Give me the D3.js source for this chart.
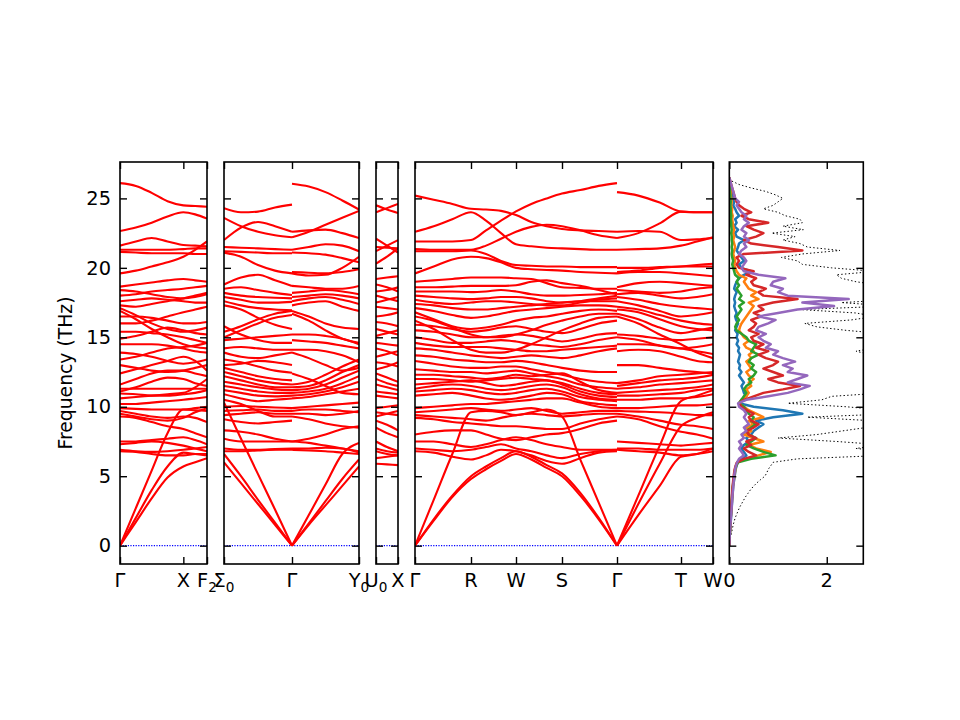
<!DOCTYPE html>
<html>
<head>
<meta charset="utf-8">
<script src="https://cdn.jsdelivr.net/npm/d3@7"></script>
<style>
body { margin: 0; background: #fff; }
text { font-family: "DejaVu Sans", sans-serif; }
</style>
</head>
<body>
<svg width="960" height="720"></svg>
<script>
// ---- band structure data (frequencies in THz at path distances q) ----
const qGX = [0, 0.0158, 0.0316, 0.0474, 0.0632, 0.075, 0.0868];
const bandsGX = [
  [26.1, 25.9, 25.4, 24.8, 24.5, 24.45, 24.4],
  [22.65, 22.9, 23.25, 23.7, 24.0, 23.85, 23.55],
  [21.6, 21.9, 22.15, 21.9, 21.65, 21.6, 21.55],
  [21.3, 21.3, 21.3, 21.3, 21.35, 21.4, 21.4],
  [21.15, 21.1, 21.05, 21.05, 21.05, 21.0, 21.0],
  [19.6, 19.8, 20.1, 20.4, 20.8, 21.3, 21.9],
  [18.65, 18.8, 18.95, 19.1, 19.2, 19.1, 19.0],
  [18.4, 18.3, 18.1, 17.9, 17.8, 17.9, 18.1],
  [18.0, 18.1, 18.3, 18.4, 18.5, 18.6, 18.7],
  [17.6, 17.7, 17.8, 17.7, 17.6, 17.5, 17.5],
  [17.3, 17.2, 17.4, 17.6, 17.8, 18.0, 18.2],
  [17.1, 16.6, 16.0, 15.6, 15.4, 15.5, 15.7],
  [16.9, 16.3, 15.6, 15.0, 14.5, 14.3, 14.2],
  [16.5, 16.5, 16.4, 16.2, 16.0, 16.0, 16.1],
  [16.0, 16.0, 16.2, 16.5, 16.8, 17.0, 17.2],
  [15.4, 15.4, 15.3, 15.2, 15.0, 14.8, 14.6],
  [14.9, 15.1, 15.4, 15.7, 15.5, 15.3, 15.2],
  [14.5, 14.5, 14.5, 14.4, 14.2, 14.0, 13.9],
  [13.9, 13.8, 13.6, 13.3, 13.1, 13.2, 13.4],
  [13.4, 13.6, 13.9, 14.2, 14.3, 14.4, 14.6],
  [13.0, 12.8, 12.6, 12.5, 12.6, 12.8, 13.0],
  [12.4, 12.7, 13.0, 13.3, 13.6, 13.3, 12.6],
  [11.6, 12.0, 12.4, 12.6, 12.6, 12.4, 12.2],
  [11.3, 11.3, 11.3, 11.3, 11.3, 11.3, 11.3],
  [11.1, 11.4, 11.8, 12.1, 12.0, 11.7, 11.5],
  [10.95, 10.9, 10.8, 10.8, 10.9, 11.0, 11.2],
  [10.6, 10.7, 10.8, 10.9, 11.0, 11.4, 12.0],
  [10.2, 10.2, 10.3, 10.4, 10.5, 10.6, 10.7],
  [9.9, 9.85, 9.8, 9.8, 9.8, 9.9, 10.0],
  [9.7, 9.5, 9.3, 9.2, 9.3, 9.2, 8.9],
  [9.5, 9.3, 9.1, 9.0, 9.2, 9.6, 9.9],
  [9.3, 9.2, 8.9, 8.6, 8.4, 8.1, 7.8],
  [7.5, 7.5, 7.6, 7.7, 7.8, 7.6, 7.3],
  [7.3, 7.4, 7.5, 7.4, 7.2, 7.0, 6.8],
  [6.9, 6.8, 6.75, 6.8, 6.9, 7.0, 7.1],
  [6.8, 6.75, 6.6, 6.5, 6.5, 6.6, 6.6],
  [0, 2.7, 5.4, 8.1, 9.8, 9.75, 9.7],
  [0, 2.0, 4.0, 5.7, 6.7, 6.6, 6.5],
  [0, 1.7, 3.4, 4.9, 5.7, 6.0, 6.3]
];

const qSG = [0.0868, 0.1038, 0.1208, 0.1378, 0.1548];
const bandsSG = [
  [24.3, 24.0, 24.05, 24.35, 24.55],
  [23.6, 23.0, 22.6, 22.35, 22.2],
  [22.0, 22.9, 23.3, 23.0, 22.6],
  [21.5, 21.45, 21.4, 21.35, 21.3],
  [21.2, 21.15, 21.1, 21.05, 21.05],
  [21.1, 20.8, 20.2, 19.8, 19.6],
  [18.8, 19.3, 19.5, 19.1, 18.7],
  [18.5, 18.6, 18.4, 18.2, 18.05],
  [18.2, 18.0, 17.9, 17.85, 17.8],
  [17.9, 17.7, 17.5, 17.5, 17.55],
  [17.6, 17.3, 17.1, 17.0, 16.95],
  [15.4, 15.8, 16.3, 16.7, 16.9],
  [15.0, 15.5, 16.0, 16.4, 16.6],
  [17.3, 17.0, 16.4, 15.9, 15.6],
  [14.8, 14.9, 15.0, 15.1, 15.2],
  [15.8, 15.2, 14.8, 14.6, 14.6],
  [14.2, 14.3, 14.2, 14.1, 14.1],
  [13.9, 13.6, 13.5, 13.7, 13.9],
  [13.4, 13.2, 12.9, 12.6, 12.45],
  [13.0, 13.1, 13.3, 13.2, 13.0],
  [12.8, 12.5, 12.2, 12.0, 11.9],
  [12.5, 12.2, 11.9, 11.7, 11.6],
  [12.2, 11.9, 11.6, 11.4, 11.4],
  [11.8, 11.6, 11.4, 11.25, 11.2],
  [11.5, 11.3, 11.1, 11.0, 11.0],
  [11.2, 11.0, 10.8, 10.75, 10.8],
  [10.9, 10.6, 10.4, 10.5, 10.6],
  [10.0, 10.05, 10.0, 9.95, 9.9],
  [9.7, 9.75, 9.8, 9.7, 9.7],
  [9.4, 9.5, 9.6, 9.5, 9.5],
  [10.5, 10.2, 9.7, 9.3, 9.3],
  [9.1, 8.9, 8.8, 8.9, 9.0],
  [8.3, 8.2, 8.0, 7.7, 7.5],
  [7.7, 7.5, 7.5, 7.5, 7.5],
  [7.0, 6.9, 6.9, 6.95, 7.0],
  [6.8, 6.8, 6.85, 6.9, 6.9],
  [10.3, 7.7, 5.15, 2.6, 0],
  [6.6, 5.0, 3.3, 1.65, 0],
  [6.0, 4.5, 3.0, 1.5, 0]
];

const qGY = [0.1548, 0.1716, 0.1883, 0.2051, 0.2218];
const bandsGY = [
  [26.05, 25.85, 25.45, 24.85, 24.2],
  [22.2, 22.6, 23.1, 23.6, 24.1],
  [22.6, 22.7, 22.75, 22.5, 22.15],
  [21.3, 21.5, 21.7, 21.6, 21.2],
  [21.1, 21.05, 20.95, 20.7, 20.4],
  [19.6, 19.45, 19.5, 20.0, 20.8],
  [19.7, 19.65, 19.6, 19.7, 19.9],
  [18.7, 18.6, 18.5, 18.5, 18.7],
  [18.2, 18.3, 18.4, 18.3, 18.1],
  [17.9, 18.0, 18.1, 18.0, 17.8],
  [17.6, 17.8, 17.9, 17.7, 17.4],
  [17.3, 17.5, 17.6, 17.2, 16.9],
  [16.9, 16.5, 16.0, 15.7, 15.6],
  [16.7, 16.2, 15.5, 14.9, 14.6],
  [15.2, 15.2, 15.1, 14.9, 14.5],
  [14.8, 14.7, 14.6, 14.4, 14.2],
  [14.1, 14.1, 14.0, 13.7, 13.2],
  [13.9, 13.5, 13.0, 12.6, 12.8],
  [11.6, 11.8, 12.3, 12.9, 13.4],
  [11.4, 11.5, 11.9, 12.5, 13.0],
  [11.2, 11.3, 11.6, 12.1, 12.6],
  [11.0, 11.1, 11.3, 11.7, 12.2],
  [10.8, 10.9, 11.1, 11.4, 11.8],
  [10.6, 10.7, 10.9, 11.1, 11.3],
  [12.4, 12.0, 11.5, 11.0, 10.9],
  [9.9, 10.0, 10.1, 10.2, 10.3],
  [9.7, 9.8, 9.8, 9.7, 9.6],
  [9.5, 9.5, 9.4, 9.5, 9.7],
  [9.3, 9.1, 8.8, 8.6, 8.5],
  [7.5, 7.7, 8.0, 8.4, 8.6],
  [7.5, 7.4, 7.2, 7.0, 6.8],
  [7.0, 7.0, 7.05, 7.0, 6.7],
  [6.9, 6.85, 6.8, 6.7, 6.6],
  [0, 2.2, 4.4, 6.6, 7.4],
  [0, 1.6, 3.2, 4.8, 6.2],
  [0, 1.5, 2.9, 4.3, 5.7]
];

const qUX = [0.2218, 0.2328, 0.2438];
const bandsUX = [
  [24.5, 24.2, 23.95], [24.0, 24.3, 24.6],
  [22.1, 21.6, 21.1], [21.2, 21.6, 22.0], [21.5, 21.45, 21.4], [20.3, 20.8, 21.4],
  [19.2, 19.3, 19.4], [18.8, 18.6, 18.3], [18.3, 18.4, 18.6], [18.0, 17.8, 17.6],
  [17.5, 17.7, 17.9], [17.2, 17.1, 17.0], [16.5, 16.6, 16.8], [16.1, 16.0, 15.8],
  [15.6, 15.4, 15.2], [15.1, 15.3, 15.5], [14.6, 14.5, 14.4], [14.2, 14.0, 13.7],
  [13.6, 13.8, 14.0], [13.2, 13.1, 12.9], [12.7, 12.9, 13.2], [12.4, 12.1, 11.8],
  [12.0, 11.7, 11.5], [11.6, 11.4, 11.2], [11.1, 11.0, 10.9], [10.8, 10.7, 10.6],
  [9.9, 10.0, 10.1], [9.6, 9.5, 9.4], [9.3, 9.5, 9.7], [9.0, 8.7, 8.3],
  [8.5, 8.1, 7.8], [7.5, 7.1, 6.8], [7.0, 6.8, 6.7], [6.8, 6.6, 6.5],
  [5.9, 5.85, 5.8], [6.3, 6.4, 6.5]
];

const qGRWSG = [0.2438, 0.2625, 0.2811, 0.2998, 0.3148, 0.3298, 0.3448,
  0.3601, 0.3755, 0.3908, 0.4091, 0.4275, 0.4458];
const bandsGRWSG = [
  [21.9, 21.9, 21.9, 22.0, 22.7, 23.4, 24.06, 24.6, 25.0, 25.35, 25.6, 25.9, 26.1],
  [25.2, 24.9, 24.6, 24.25, 24.2, 24.1, 23.8, 23.3, 23.0, 22.8, 22.7, 22.65, 22.6],
  [22.6, 23.0, 23.5, 24.0, 23.4, 22.5, 21.7, 21.55, 21.45, 21.4, 21.35, 21.3, 21.3],
  [21.35, 21.3, 21.3, 21.3, 21.6, 22.1, 22.6, 22.95, 23.1, 23.0, 22.7, 22.35, 22.15],
  [21.2, 21.2, 21.2, 21.25, 21.0, 20.5, 20.2, 20.15, 20.1, 20.1, 20.05, 20.05, 20.05],
  [19.6, 20.1, 20.6, 20.8, 20.7, 20.4, 20.0, 19.9, 19.85, 19.8, 19.7, 19.65, 19.6],
  [19.0, 19.1, 19.2, 19.3, 19.3, 19.3, 19.25, 19.2, 18.9, 18.6, 18.55, 18.5, 18.5],
  [18.6, 18.6, 18.65, 18.7, 18.7, 18.7, 18.75, 19.0, 19.1, 18.9, 18.7, 18.4, 18.1],
  [18.3, 18.3, 18.3, 18.25, 18.3, 18.4, 18.3, 18.1, 18.0, 18.0, 18.05, 18.1, 18.2],
  [18.0, 17.9, 17.8, 17.75, 17.8, 17.9, 17.9, 17.8, 17.6, 17.5, 17.6, 17.8, 18.0],
  [17.7, 17.5, 17.4, 17.5, 17.6, 17.6, 17.5, 17.4, 17.3, 17.3, 17.5, 17.7, 17.8],
  [17.4, 17.3, 17.1, 17.0, 17.0, 17.1, 17.2, 17.3, 17.4, 17.5, 17.6, 17.6, 17.6],
  [17.1, 16.9, 16.6, 16.4, 16.5, 16.7, 16.9, 17.0, 17.1, 17.2, 17.3, 17.3, 17.2],
  [16.8, 16.3, 15.8, 15.6, 15.7, 15.9, 16.2, 16.4, 16.5, 16.7, 16.9, 17.0, 16.9],
  [16.5, 16.2, 15.7, 15.2, 15.0, 15.0, 15.2, 15.5, 15.9, 16.2, 16.5, 16.7, 16.7],
  [16.2, 15.6, 14.8, 14.1, 13.9, 13.9, 14.1, 14.5, 15.0, 15.5, 16.0, 16.4, 16.5],
  [15.9, 15.8, 15.6, 15.4, 15.5, 15.7, 15.8, 15.6, 15.4, 15.3, 15.6, 16.0, 16.2],
  [15.5, 15.4, 15.2, 15.0, 15.0, 15.1, 15.2, 15.1, 14.9, 14.7, 14.9, 15.2, 15.3],
  [15.0, 14.8, 14.6, 14.6, 14.7, 14.8, 14.7, 14.5, 14.4, 14.3, 14.5, 14.8, 15.0],
  [14.6, 14.4, 14.3, 14.3, 14.3, 14.2, 14.1, 14.0, 14.0, 14.1, 14.2, 14.3, 14.4],
  [14.2, 14.1, 13.9, 13.7, 13.6, 13.5, 13.6, 13.7, 13.6, 13.5, 13.7, 14.0, 14.2],
  [13.7, 13.6, 13.4, 13.3, 13.2, 13.2, 13.3, 13.2, 13.0, 12.8, 12.6, 12.5, 12.5],
  [13.3, 13.1, 12.9, 12.8, 12.8, 12.9, 12.9, 12.7, 12.5, 12.3, 12.0, 11.8, 11.7],
  [12.7, 12.6, 12.5, 12.5, 12.4, 12.5, 12.6, 12.4, 12.2, 12.0, 11.6, 11.4, 11.3],
  [12.3, 12.3, 12.2, 12.1, 12.0, 12.1, 12.3, 12.2, 12.3, 12.4, 11.8, 11.2, 11.0],
  [12.0, 12.0, 11.9, 11.8, 11.9, 12.0, 12.1, 12.0, 11.9, 11.7, 11.3, 11.0, 10.9],
  [11.6, 11.7, 11.8, 11.9, 11.7, 11.5, 11.6, 11.8, 11.9, 11.6, 11.1, 10.8, 10.7],
  [11.3, 11.5, 11.6, 11.5, 11.3, 11.2, 11.3, 11.5, 11.6, 11.4, 10.9, 10.6, 10.5],
  [11.1, 11.2, 11.3, 11.2, 11.0, 10.9, 11.0, 11.2, 11.3, 11.1, 10.7, 10.5, 10.4],
  [10.8, 10.9, 11.0, 10.8, 10.6, 10.5, 10.6, 10.8, 11.0, 10.9, 10.4, 10.2, 10.1],
  [9.9, 10.0, 10.1, 10.2, 10.2, 10.3, 10.4, 10.5, 10.6, 10.6, 10.3, 10.0, 9.9],
  [9.6, 9.7, 9.8, 9.9, 9.8, 9.7, 9.8, 9.9, 9.7, 9.5, 9.6, 9.7, 9.7],
  [9.4, 9.3, 9.2, 9.1, 9.0, 9.2, 9.4, 9.5, 9.4, 9.3, 9.4, 9.5, 9.5],
  [9.2, 9.1, 8.9, 8.8, 8.7, 8.6, 8.6, 8.5, 8.4, 8.4, 8.8, 9.1, 9.3],
  [8.0, 8.2, 8.3, 8.3, 8.0, 7.7, 7.6, 7.8, 8.0, 8.1, 8.4, 8.8, 9.0],
  [7.5, 7.5, 7.3, 7.1, 7.3, 7.6, 7.8, 7.6, 7.3, 7.1, 6.9, 6.9, 6.9],
  [7.0, 6.9, 6.8, 6.9, 7.1, 7.3, 7.0, 6.8, 6.5, 6.3, 6.6, 6.8, 6.9],
  [6.8, 6.7, 6.4, 6.2, 6.5, 6.9, 6.8, 6.5, 6.1, 5.9, 6.3, 6.7, 6.8],
  [0, 1.8, 3.5, 4.8, 5.5, 6.1, 6.6, 6.2, 5.6, 5.0, 3.6, 1.9, 0],
  [0, 1.9, 3.6, 5.0, 5.7, 6.3, 6.8, 6.4, 5.8, 5.2, 3.8, 2.0, 0],
  [0, 3.3, 6.6, 9.6, 9.7, 9.6, 9.4, 9.6, 9.8, 9.3, 6.2, 3.1, 0]
];

const qGTW = [0.4458, 0.4671, 0.4885, 0.5098, 0.5258, 0.5418];
const bandsGTW = [
  [25.45, 25.2, 24.7, 24.05, 24.0, 24.0],
  [22.15, 22.5, 23.2, 24.05, 24.0, 24.0],
  [22.6, 22.65, 22.6, 22.0, 22.05, 22.15],
  [21.3, 21.35, 21.4, 21.6, 21.9, 22.2],
  [20.0, 20.0, 20.05, 20.1, 20.1, 20.1],
  [19.7, 19.8, 20.0, 20.1, 20.2, 20.3],
  [19.6, 19.7, 19.7, 19.6, 19.5, 19.4],
  [18.6, 18.9, 19.0, 18.9, 18.8, 18.7],
  [18.4, 18.3, 18.2, 18.3, 18.5, 18.6],
  [18.1, 18.2, 18.0, 17.8, 17.9, 18.1],
  [17.9, 17.7, 17.4, 17.2, 17.1, 17.0],
  [17.6, 17.3, 16.9, 16.5, 16.6, 16.8],
  [17.2, 17.0, 16.6, 16.2, 16.0, 15.9],
  [17.0, 16.8, 16.3, 15.8, 15.6, 15.5],
  [16.7, 16.3, 15.7, 15.3, 15.5, 15.7],
  [15.2, 15.1, 14.9, 14.8, 14.9, 15.0],
  [15.0, 14.8, 14.4, 14.2, 14.3, 14.5],
  [14.5, 14.5, 14.4, 14.2, 14.0, 13.8],
  [14.0, 14.1, 14.0, 13.6, 13.3, 13.2],
  [16.5, 16.0, 15.2, 14.5, 13.9, 13.5],
  [13.0, 13.0, 12.8, 12.6, 12.5, 12.4],
  [11.7, 11.9, 12.2, 12.3, 12.4, 12.5],
  [11.5, 11.7, 11.9, 12.0, 12.1, 12.3],
  [11.3, 11.4, 11.6, 11.7, 11.8, 11.9],
  [11.0, 11.1, 11.2, 11.3, 11.4, 11.6],
  [10.8, 10.8, 10.9, 11.0, 11.2, 11.3],
  [10.5, 10.5, 10.6, 10.6, 10.7, 10.9],
  [9.9, 9.9, 10.0, 10.1, 10.1, 10.2],
  [9.7, 9.65, 9.6, 9.5, 9.4, 9.4],
  [9.5, 9.3, 9.0, 8.7, 8.6, 8.4],
  [9.3, 9.1, 8.6, 8.2, 8.0, 7.7],
  [7.5, 7.4, 7.3, 7.2, 7.3, 7.4],
  [7.0, 7.0, 6.9, 6.9, 6.9, 7.0],
  [6.9, 6.8, 6.7, 6.5, 6.6, 6.8],
  [0, 2.2, 4.3, 6.4, 6.6, 7.0],
  [0, 3.0, 5.9, 8.6, 9.2, 9.6],
  [0, 3.6, 7.2, 10.4, 10.8, 11.2]
];

// high-symmetry tick labels per panel: [q, symbol, subscript]
const labelsP1 = [[0, "Γ", ""], [0.0632, "X", ""], [0.0868, "F", "2"]];
const labelsP2 = [[0.0868, "Σ", "0"], [0.1548, "Γ", ""], [0.2218, "Y", "0"]];
const labelsP3 = [[0.2218, "U", "0"], [0.2438, "X", ""]];
const labelsP4 = [[0.2438, "Γ", ""], [0.2998, "R", ""], [0.3448, "W", ""], [0.3908, "S", ""],
  [0.4458, "Γ", ""], [0.5098, "T", ""], [0.5418, "W", ""]];

const freqTicks = [0, 5, 10, 15, 20, 25];
const dosTicks = [0, 2];

// ---- phonon DOS (frequency grid, THz) ----
const dosFreq = [0,0.25,0.5,0.75,1,1.25,1.5,1.75,2,2.25,
  2.5,2.75,3,3.25,3.5,3.75,4,4.25,4.5,4.75,
  5,5.25,5.5,5.75,6,6.25,6.5,6.75,7,7.25,
  7.5,7.75,8,8.25,8.5,8.75,9,9.25,9.5,9.75,
  10,10.25,10.5,10.75,11,11.25,11.5,11.75,12,12.25,
  12.5,12.75,13,13.25,13.5,13.75,14,14.25,14.5,14.75,
  15,15.25,15.5,15.75,16,16.25,16.5,16.75,17,17.25,
  17.5,17.75,18,18.25,18.5,18.75,19,19.25,19.5,19.75,
  20,20.25,20.5,20.75,21,21.25,21.5,21.75,22,22.25,
  22.5,22.75,23,23.25,23.5,23.75,24,24.25,24.5,24.75,
  25,25.25,25.5,25.75,26,26.25,26.5];
const dosTotal = [0,0.01,0.02,0.035,0.05,0.065,0.08,0.1,0.12,0.15,
  0.18,0.21,0.25,0.29,0.33,0.38,0.43,0.49,0.56,0.64,
  0.73,0.77,0.8,0.85,0.9,1.4,3.2,3.3,2.6,3.2,
  2.2,1.0,1.8,2.3,2.8,3.2,2.9,1.6,3.4,3.2,
  2.4,1.2,1.9,2.1,3.2,3.5,3.8,3.3,3.5,3.6,
  3.2,3.4,3.1,3.3,3.0,2.9,2.6,3.0,3.1,2.9,
  3.0,3.2,2.4,1.8,1.55,2.5,3.0,2.6,1.45,3.3,
  2.3,3.6,3.2,3.0,2.9,3.1,2.6,2.3,2.2,3.0,
  2.1,1.5,1.4,1.07,1.5,2.27,1.6,1.45,1.1,1.35,
  0.87,1.52,1.1,1.5,1.45,1.15,1.0,0.7,0.9,1.0,
  1.1,0.95,0.75,0.45,0.2,0.05,0];
const dosBlue = [0,0.003,0.006,0.01,0.015,0.02,0.025,0.03,0.035,0.04,
  0.045,0.05,0.055,0.06,0.065,0.07,0.075,0.08,0.09,0.1,
  0.11,0.12,0.13,0.15,0.17,0.25,0.35,0.3,0.25,0.3,
  0.4,0.35,0.45,0.5,0.6,0.7,0.55,0.9,1.5,1.1,
  0.5,0.2,0.25,0.35,0.3,0.28,0.25,0.3,0.25,0.2,
  0.25,0.2,0.22,0.18,0.2,0.22,0.18,0.2,0.15,0.18,
  0.15,0.17,0.12,0.15,0.18,0.14,0.12,0.15,0.12,0.1,
  0.12,0.1,0.12,0.15,0.1,0.12,0.15,0.2,0.3,0.45,
  0.25,0.2,0.3,0.25,0.2,0.15,0.18,0.2,0.3,0.15,
  0.12,0.18,0.1,0.15,0.12,0.2,0.15,0.12,0.08,0.1,
  0.06,0.08,0.05,0.04,0.03,0.01,0];
const dosOrange = [0,0.003,0.006,0.01,0.014,0.018,0.022,0.026,0.03,0.035,
  0.04,0.045,0.05,0.055,0.06,0.065,0.07,0.075,0.085,0.095,
  0.105,0.115,0.125,0.14,0.16,0.35,0.6,0.85,0.55,0.4,
  0.7,0.5,0.3,0.45,0.35,0.5,0.4,0.7,0.55,0.4,
  0.3,0.2,0.25,0.35,0.4,0.35,0.45,0.4,0.5,0.4,
  0.35,0.45,0.4,0.35,0.45,0.4,0.5,0.35,0.3,0.4,
  0.3,0.25,0.2,0.22,0.25,0.3,0.35,0.4,0.45,0.5,
  0.4,0.6,0.45,0.55,0.4,0.35,0.3,0.35,0.2,0.15,
  0.12,0.1,0.12,0.1,0.08,0.1,0.12,0.1,0.08,0.1,
  0.08,0.1,0.08,0.07,0.06,0.07,0.05,0.06,0.04,0.05,
  0.04,0.03,0.03,0.02,0.02,0.01,0];
const dosGreen = [0,0.003,0.006,0.01,0.014,0.018,0.022,0.026,0.03,0.034,
  0.038,0.042,0.046,0.05,0.055,0.06,0.065,0.07,0.08,0.09,
  0.1,0.11,0.12,0.14,0.18,0.45,0.95,0.7,0.5,0.35,
  0.45,0.55,0.4,0.35,0.45,0.55,0.45,0.5,0.4,0.35,
  0.3,0.2,0.25,0.3,0.35,0.3,0.35,0.45,0.4,0.5,
  0.55,0.45,0.5,0.4,0.45,0.6,0.45,0.5,0.55,0.4,
  0.35,0.25,0.15,0.12,0.15,0.2,0.15,0.2,0.25,0.2,
  0.3,0.2,0.25,0.2,0.15,0.2,0.15,0.2,0.12,0.1,
  0.08,0.06,0.08,0.06,0.05,0.06,0.05,0.06,0.05,0.05,
  0.04,0.05,0.04,0.04,0.03,0.04,0.03,0.03,0.02,0.03,
  0.02,0.02,0.015,0.01,0.01,0.005,0];
const dosRed = [0,0.003,0.006,0.009,0.012,0.016,0.02,0.024,0.028,0.032,
  0.036,0.04,0.044,0.048,0.052,0.057,0.062,0.068,0.075,0.082,
  0.09,0.1,0.11,0.13,0.16,0.3,0.55,0.4,0.3,0.45,
  0.35,0.55,0.4,0.35,0.5,0.6,0.45,0.4,0.5,0.35,
  0.25,0.2,0.3,0.5,0.7,1.1,1.45,1.0,0.8,1.1,
  0.9,0.7,0.9,1.0,0.75,0.6,0.8,0.55,0.7,0.5,
  0.45,0.6,0.4,0.5,0.55,0.45,0.65,0.5,0.7,0.6,
  0.9,1.4,0.7,0.6,0.75,0.5,0.45,0.55,0.35,0.5,
  0.2,0.15,0.2,0.15,0.3,1.5,1.0,0.45,0.3,0.55,
  0.7,0.5,0.35,0.8,0.4,0.25,0.45,0.3,0.2,0.15,
  0.12,0.1,0.08,0.06,0.04,0.02,0];
const dosPurple = [0,0.003,0.006,0.01,0.014,0.018,0.023,0.028,0.033,0.038,
  0.043,0.048,0.053,0.058,0.063,0.068,0.074,0.08,0.087,0.094,
  0.1,0.11,0.12,0.135,0.16,0.2,0.3,0.25,0.2,0.25,
  0.2,0.3,0.25,0.35,0.3,0.4,0.35,0.3,0.35,0.3,
  0.2,0.18,0.35,0.8,1.2,1.45,1.65,1.2,1.4,1.6,
  1.2,1.3,1.1,1.35,1.1,0.9,1.0,0.75,0.85,0.7,
  0.6,0.75,0.55,0.6,0.8,0.95,0.6,1.0,1.4,2.15,
  1.5,2.45,1.2,1.0,1.1,0.85,0.9,1.15,0.6,0.3,
  0.25,0.3,0.35,0.3,0.2,0.25,0.35,0.3,0.4,0.3,
  0.35,0.25,0.3,0.4,0.3,0.35,0.25,0.2,0.15,0.2,
  0.12,0.1,0.08,0.06,0.04,0.02,0];
const dosColors = ["#1f77b4", "#ff7f0e", "#2ca02c", "#d62728", "#9467bd"];

// ---- layout ----
const svg = d3.select("svg");
const yTop = 162, yBottom = 564;
const y = d3.scaleLinear().domain([-1.32, 27.62]).range([yBottom, yTop]);
const tickLen = 7;

function styleAxis(g) {
  g.select(".domain").remove();
  g.selectAll("line").attr("stroke", "#000").attr("stroke-width", 1.4);
  g.selectAll("text").attr("font-family", "DejaVu Sans, sans-serif").attr("font-size", 19.4).attr("fill", "#000");
}

function frameAxes(x, x0, x1, xTicks, showY) {
  svg.append("g").attr("transform", `translate(${x0},0)`)
    .call(d3.axisLeft(y).tickValues(freqTicks).tickSize(-tickLen).tickPadding(9)
      .tickFormat(showY ? d3.format("d") : ""))
    .call(styleAxis);
  svg.append("g").attr("transform", `translate(${x1},0)`)
    .call(d3.axisRight(y).tickValues(freqTicks).tickSize(-tickLen).tickFormat(""))
    .call(styleAxis);
  svg.append("g").attr("transform", `translate(0,${yBottom})`)
    .call(d3.axisBottom(x).tickValues(xTicks).tickSize(-tickLen).tickFormat(""))
    .call(styleAxis);
  svg.append("g").attr("transform", `translate(0,${yTop})`)
    .call(d3.axisTop(x).tickValues(xTicks).tickSize(-tickLen).tickFormat(""))
    .call(styleAxis);
  svg.append("rect").attr("x", x0).attr("y", yTop).attr("width", x1 - x0).attr("height", yBottom - yTop)
    .attr("fill", "none").attr("stroke", "#000").attr("stroke-width", 1.6);
}

function bandPanel(x0, x1, segs, labels, showY) {
  const dom = [labels[0][0], labels[labels.length - 1][0]];
  const x = d3.scaleLinear().domain(dom).range([x0, x1]);
  const id = "clip" + x0;
  svg.append("clipPath").attr("id", id).append("rect")
    .attr("x", x0).attr("y", yTop).attr("width", x1 - x0).attr("height", yBottom - yTop);
  const g = svg.append("g").attr("clip-path", `url(#${id})`);
  g.append("line").attr("x1", x0).attr("x2", x1).attr("y1", y(0)).attr("y2", y(0))
    .attr("stroke", "#0000ff").attr("stroke-width", 1.2).attr("stroke-dasharray", "1.2,1.4");
  segs.forEach(([q, bands]) => {
    const ln = d3.line().x((d, i) => x(q[i])).y(d => y(d)).curve(d3.curveMonotoneX);
    g.selectAll(null).data(bands).join("path")
      .attr("d", ln).attr("fill", "none").attr("stroke", "#ff0000").attr("stroke-width", 2.1);
  });
  frameAxes(x, x0, x1, labels.map(l => l[0]), showY);
  labels.forEach(([q, s, sub]) => {
    const t = svg.append("text").attr("x", x(q)).attr("y", 587)
      .attr("text-anchor", "middle").attr("font-size", 19.4).attr("fill", "#000");
    t.append("tspan").text(s);
    if (sub) t.append("tspan").attr("dy", 5).attr("font-size", 13.6).text(sub);
  });
}

bandPanel(120, 207, [[qGX, bandsGX]], labelsP1, true);
bandPanel(224, 359, [[qSG, bandsSG], [qGY, bandsGY]], labelsP2, false);
bandPanel(376, 398, [[qUX, bandsUX]], labelsP3, false);
bandPanel(415, 713, [[qGRWSG, bandsGRWSG], [qGTW, bandsGTW]], labelsP4, false);

// ---- DOS panel ----
const dx0 = 729.3, dx1 = 863.3;
const xd = d3.scaleLinear().domain([0, 2.75]).range([dx0, dx1]);
svg.append("clipPath").attr("id", "clipdos").append("rect")
  .attr("x", dx0).attr("y", yTop).attr("width", dx1 - dx0).attr("height", yBottom - yTop);
const gd = svg.append("g").attr("clip-path", "url(#clipdos)");
const dosLine = d3.line().x(d => xd(d[1])).y(d => y(d[0]));
gd.append("path").datum(d3.zip(dosFreq, dosTotal)).attr("d", dosLine)
  .attr("fill", "none").attr("stroke", "#000").attr("stroke-width", 1).attr("stroke-dasharray", "1.4,2.3");
[dosBlue, dosOrange, dosGreen, dosRed, dosPurple].forEach((s, i) => {
  gd.append("path").datum(d3.zip(dosFreq, s)).attr("d", dosLine)
    .attr("fill", "none").attr("stroke", dosColors[i]).attr("stroke-width", 2.5)
    .attr("stroke-linejoin", "round");
});
frameAxes(xd, dx0, dx1, dosTicks, false);
dosTicks.forEach(v => {
  svg.append("text").attr("x", xd(v)).attr("y", 587).attr("text-anchor", "middle")
    .attr("font-size", 19.4).attr("fill", "#000").text(v);
});

svg.append("text").attr("transform", "translate(72,373) rotate(-90)")
  .attr("text-anchor", "middle").attr("font-size", 18.8).attr("fill", "#000")
  .text("Frequency (THz)");
</script>
</body>
</html>
